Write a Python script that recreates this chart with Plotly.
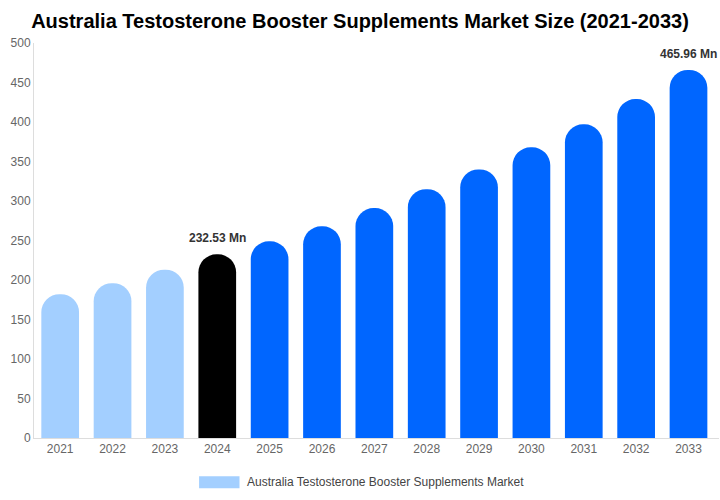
import plotly.graph_objects as go

years = ["2021", "2022", "2023", "2024", "2025", "2026", "2027", "2028", "2029", "2030", "2031", "2032", "2033"]
values = [182, 196, 213, 232.53, 249, 268, 291, 315, 340, 368, 397, 429, 465.96]
bar_colors = ["#a3cfff"] * 3 + ["#000000"] + ["#0066ff"] * 9
label_years = ["2024", "2033"]
label_texts = ["232.53 Mn", "465.96 Mn"]
series_name = "Australia Testosterone Booster Supplements Market"
y_ticks = list(range(0, 501, 50))

fig = go.Figure()
fig.add_trace(go.Bar(
    x=years, y=values, marker=dict(color=bar_colors, cornerradius="50%", line=dict(width=0)),
    name=series_name, showlegend=False, hoverinfo="x+y",
))

for yr, txt in zip(label_years, label_texts):
    idx = years.index(yr)
    fig.add_annotation(x=idx, y=values[idx], text="<b>" + txt + "</b>",
                       showarrow=False, yanchor="bottom", yshift=7,
                       font=dict(size=12, color="#333333", family="Liberation Sans, Arial"))

# legend (manual swatch)
fig.add_shape(type="rect", xref="paper", yref="paper", x0=0.241, x1=0.3, y0=-0.127, y1=-0.097,
              fillcolor="#a3cfff", line=dict(width=0))
fig.add_annotation(xref="paper", yref="paper", x=0.308, y=-0.112, text=series_name,
                   showarrow=False, xanchor="left", yanchor="middle",
                   font=dict(size=12, color="#444444", family="Liberation Sans, Arial"))

fig.update_layout(
    width=720, height=500,
    margin=dict(l=34, r=1, t=43, b=62),
    paper_bgcolor="white", plot_bgcolor="white",
    bargap=0.28,
    font=dict(family="Liberation Sans, Arial", size=12, color="#666666"),
    title=dict(text="<b>Australia Testosterone Booster Supplements Market Size (2021-2033)</b>",
               x=0.5, xanchor="center", y=0.958, yanchor="middle",
               font=dict(size=20, color="#000000", family="Liberation Sans, Arial")),
    showlegend=False,
)
fig.update_xaxes(type="category", showgrid=False, showline=True, linecolor="#dddddd", linewidth=1,
                 ticks="", tickfont=dict(size=12, color="#666666"))
fig.update_yaxes(range=[0, 500], tickvals=y_ticks, showgrid=False, showline=True,
                 linecolor="#dddddd", linewidth=1, ticks="", zeroline=False,
                 tickfont=dict(size=12, color="#666666"))

fig.write_html("out.html", config={"displayModeBar": False},
               post_script="document.body.style.margin='0';")
